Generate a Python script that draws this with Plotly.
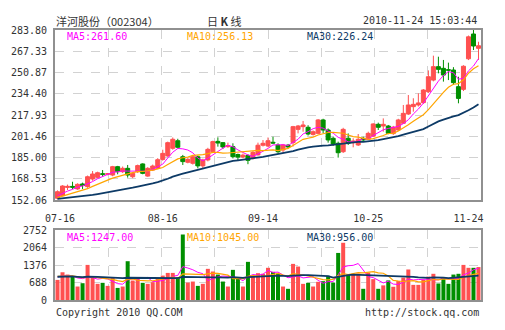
import plotly.graph_objects as go
import pandas as pd

# ---------------- data ----------------
open_ = [153.4, 155.4, 161.8, 162.6, 160.6, 164.5, 162.4, 168.3, 169.6, 172.4,
         172.0, 171.4, 177.9, 174.0, 176.6, 170.1, 174.0, 180.0, 170.6, 175.3,
         176.6, 183.5, 186.2, 192.1, 198.0, 185.6, 181.3, 180.5, 185.6, 178.5,
         183.1, 189.5, 197.5, 196.5, 193.4, 193.4, 187.3, 185.4, 186.6, 184.4,
         187.0, 194.5, 193.9, 196.8, 194.7, 190.8, 194.5, 196.5, 206.8, 208.9,
         208.4, 202.9, 203.7, 214.1, 206.3, 199.9, 196.0, 189.5, 199.9, 196.5,
         194.7, 199.9, 199.1, 201.5, 210.7, 209.4, 209.4, 203.5, 206.3, 211.5,
         218.7, 224.4, 225.7, 227.5, 236.0, 245.0, 255.4, 254.1, 253.0, 252.8,
         239.9, 237.8, 261.5, 280.7, 269.6]
high = [159.5, 163.5, 164.0, 166.2, 165.0, 165.5, 171.0, 174.5, 174.0, 175.3,
        173.0, 178.5, 178.5, 178.0, 179.2, 173.5, 179.5, 180.5, 177.5, 179.5,
        184.5, 191.0, 197.3, 200.5, 199.5, 187.0, 184.5, 186.5, 186.5, 184.0,
        192.5, 198.0, 200.6, 197.0, 196.5, 196.0, 188.0, 188.0, 187.5, 190.0,
        196.5, 198.5, 200.5, 201.1, 196.0, 195.5, 195.5, 209.5, 210.2, 213.3,
        210.0, 206.0, 214.8, 215.0, 207.5, 201.0, 197.3, 208.0, 203.7, 199.9,
        203.2, 201.1, 205.0, 211.5, 212.0, 215.3, 210.2, 209.5, 215.0, 225.7,
        233.4, 230.9, 234.7, 238.0, 252.5, 263.9, 263.1, 260.6, 258.5, 255.0,
        247.6, 256.5, 279.5, 283.8, 274.7]
low = [152.6, 155.0, 159.8, 160.5, 160.0, 160.6, 161.5, 167.0, 169.0, 170.0,
       171.2, 170.5, 172.0, 173.0, 169.4, 169.0, 173.0, 172.0, 170.0, 174.5,
       176.0, 182.5, 185.5, 191.0, 192.0, 179.2, 180.5, 179.5, 176.6, 176.5,
       182.0, 189.0, 193.4, 191.5, 192.5, 184.3, 183.0, 184.5, 179.8, 183.5,
       186.5, 193.5, 193.0, 195.5, 188.2, 189.0, 192.0, 193.5, 203.7, 205.0,
       202.0, 202.0, 203.0, 204.0, 196.5, 194.0, 184.9, 188.5, 194.7, 192.9,
       193.9, 197.3, 198.5, 201.0, 206.3, 205.0, 203.0, 202.5, 205.5, 211.0,
       218.0, 220.5, 224.5, 226.5, 235.0, 244.0, 250.2, 243.8, 245.0, 241.2,
       227.0, 236.5, 260.5, 268.3, 260.6]
close = [158.5, 162.9, 162.6, 162.0, 164.2, 163.2, 170.1, 172.2, 173.2, 172.0,
         172.4, 177.9, 174.0, 176.6, 171.4, 172.7, 178.7, 172.7, 176.6, 178.4,
         183.3, 188.2, 196.5, 199.1, 192.9, 181.8, 183.6, 185.6, 178.5, 183.1,
         191.3, 197.3, 196.2, 193.2, 194.2, 185.6, 185.3, 186.8, 182.8, 189.0,
         194.5, 196.0, 198.0, 196.2, 189.5, 194.7, 193.2, 208.9, 209.4, 210.2,
         203.2, 205.0, 214.1, 206.3, 198.6, 195.5, 188.7, 206.8, 196.0, 197.8,
         199.1, 198.6, 203.7, 211.0, 208.4, 210.7, 203.7, 208.5, 214.1, 219.2,
         225.7, 226.2, 227.3, 237.3, 247.6, 255.4, 253.3, 248.9, 252.7, 243.0,
         230.8, 255.7, 278.5, 271.4, 271.6]
volume = [790, 1090, 1000, 920, 530, 660, 1380, 900, 635, 675,
          555, 870, 475, 530, 1525, 765, 830, 675, 635, 700,
          855, 960, 1065, 1065, 895, 2575, 685, 725, 555, 635,
          1225, 1120, 1000, 725, 530, 1185, 830, 530, 1500, 960,
          1055, 1030, 1265, 1105, 1030, 530, 440, 1420, 1315, 635,
          675, 530, 715, 740, 950, 685, 1850, 2250, 1000, 1030,
          1040, 440, 1080, 820, 440, 575, 770, 520, 750, 880,
          1200, 595, 595, 790, 920, 1030, 650, 900, 635, 1000,
          1030, 1380, 1265, 1265, 1295]
# sessions before the visible window (only feed the moving averages)
pre_close = [151.2, 152.5, 153.8, 152.9, 151.6, 150.8, 151.9, 153.2, 152.4, 151.5,
             152.8, 153.6, 152.1, 151.3, 152.7, 153.9, 152.6, 151.8, 152.3, 153.1,
             151.9, 152.8, 151.7, 152.6, 152.9, 153.4, 154.2, 155.1, 155.6]
pre_volume = [880, 1020, 760, 950, 1100, 840, 700, 980, 910, 1050,
              820, 760, 990, 1130, 870, 800, 940, 1010, 720, 860,
              1080, 950, 830, 900, 1040, 870, 960, 1010, 890]

price_ticks = [152.06, 168.53, 185.00, 201.46, 217.93, 234.40, 250.87, 267.33, 283.80]
volume_ticks = [0, 688, 1376, 2064, 2752]
date_labels = ["07-16", "08-16", "09-14", "10-25", "11-24"]
date_index = [0, 21, 41, 62, 84]
ma_windows = [5, 10, 30]

# ---------------- derived ----------------
n = len(close)
x = list(range(n))
k = len(pre_close)
cs = pd.Series(pre_close + close)
vs = pd.Series(pre_volume + volume)
ma = {w: cs.rolling(w).mean().iloc[k:].tolist() for w in ma_windows}
vma = {w: vs.rolling(w).mean().iloc[k:].tolist() for w in ma_windows}

RED = "#ff5050"
GREEN = "#008f00"
MA_COL = {5: "#ff00ff", 10: "#ffa500", 30: "#0d3a66"}
MA_W = {5: 1, 10: 1.2, 30: 1.8}
MONO = "DejaVu Sans Mono"
CJK = "Noto Sans CJK SC"
TXT = "#333333"
GRID = "#d2d2d2"
BORDER = "#909090"

W, H = 505, 330
def px(v):
    return v / W
def py(v):
    return 1 - v / H

xrange_ = [-0.5, n - 0.5]
xdom = [px(55), px(481)]

fig = go.Figure()

fig.add_trace(go.Candlestick(
    x=x, open=open_, high=high, low=low, close=close,
    increasing=dict(line=dict(color=RED, width=1), fillcolor=RED),
    decreasing=dict(line=dict(color=GREEN, width=1), fillcolor=GREEN),
    whiskerwidth=0, xaxis="x", yaxis="y", showlegend=False, hoverinfo="skip"))

for w in ma_windows:
    fig.add_trace(go.Scatter(x=x, y=ma[w], mode="lines",
                             line=dict(color=MA_COL[w], width=MA_W[w]),
                             xaxis="x", yaxis="y", showlegend=False, hoverinfo="skip"))

bar_colors = [RED if c >= o else GREEN for o, c in zip(open_, close)]
fig.add_trace(go.Bar(x=x, y=volume, marker=dict(color=bar_colors, line=dict(width=0)),
                     xaxis="x2", yaxis="y2", showlegend=False, hoverinfo="skip"))
for w in ma_windows:
    fig.add_trace(go.Scatter(x=x, y=vma[w], mode="lines",
                             line=dict(color=MA_COL[w], width=MA_W[w]),
                             xaxis="x2", yaxis="y2", showlegend=False, hoverinfo="skip"))

tickfont = dict(family=MONO, size=10, color=TXT)
frame = dict(showline=True, mirror=True, linecolor=BORDER, linewidth=2, zeroline=False,
             automargin=False)
vgrid = dict(showgrid=True, gridcolor=GRID, griddash="dash", gridwidth=1,
             tick0=-0.5, dtick=n / 8, showticklabels=False, ticks="")

# date labels: keep them inside the plot edges
label_pos = [min(max(i, 0.5), n - 3) for i in date_index]

fig.update_layout(
    width=W, height=H, margin=dict(l=0, r=0, t=0, b=0, pad=0, autoexpand=False),
    paper_bgcolor="white", plot_bgcolor="white",
    bargap=0.2, boxgap=0.2, boxgroupgap=0,
    xaxis=dict(domain=xdom, range=xrange_, anchor="y", rangeslider=dict(visible=False),
               **vgrid, **frame),
    xaxis3=dict(overlaying="x", range=xrange_, anchor="y", side="bottom",
                tickmode="array", tickvals=label_pos, ticktext=date_labels,
                showgrid=False, zeroline=False, showline=False, ticks="",
                automargin=False, tickfont=tickfont, ticklabelstandoff=11),
    yaxis=dict(domain=[py(200), py(30)], range=[price_ticks[0], price_ticks[-1]],
               tickmode="array", tickvals=price_ticks,
               ticktext=[f"{v:.2f}" for v in price_ticks],
               showgrid=True, gridcolor=GRID, griddash="dash", ticks="",
               tickfont=tickfont, ticklabelstandoff=4, **frame),
    xaxis2=dict(domain=xdom, range=xrange_, anchor="y2", **vgrid, **frame),
    yaxis2=dict(domain=[py(300), py(230)], range=[volume_ticks[0], volume_ticks[-1]],
                tickmode="array", tickvals=volume_ticks,
                ticktext=[str(v) for v in volume_ticks],
                showgrid=True, gridcolor=GRID, griddash="dash", ticks="",
                tickfont=tickfont, ticklabelstandoff=4, **frame),
)
# make the label axis exist with a trace-free overlay
fig.add_trace(go.Scatter(x=[None], y=[None], xaxis="x3", yaxis="y", showlegend=False))

ann = []
def text(s, xp, yp, xanchor, color=TXT, family=MONO, size=10):
    ann.append(dict(text=s, x=px(xp), y=py(yp), xref="paper", yref="paper",
                    xanchor=xanchor, yanchor="middle", showarrow=False,
                    font=dict(family=family, size=size, color=color)))

text("洋河股份（002304）", 54, 21, "left", family=CJK, size=11)
text("日 <b>K</b> 线", 224, 21, "center", family=CJK, size=11)
text("2010-11-24 15:03:44", 479, 21, "right")
ma_x = {5: 65, 10: 185, 30: 305}
for w in ma_windows:
    text(f"MA{w}:{ma[w][-1]:.2f}", ma_x[w], 37, "left", color=MA_COL[w])
    text(f"MA{w}:{vma[w][-1]:.2f}", ma_x[w], 237.5, "left", color=MA_COL[w])
text("Copyright 2010 QQ.COM", 54, 312, "left")
text("http://stock.qq.com", 481, 312, "right")
fig.update_layout(annotations=ann)

fig.write_html("out.html")
